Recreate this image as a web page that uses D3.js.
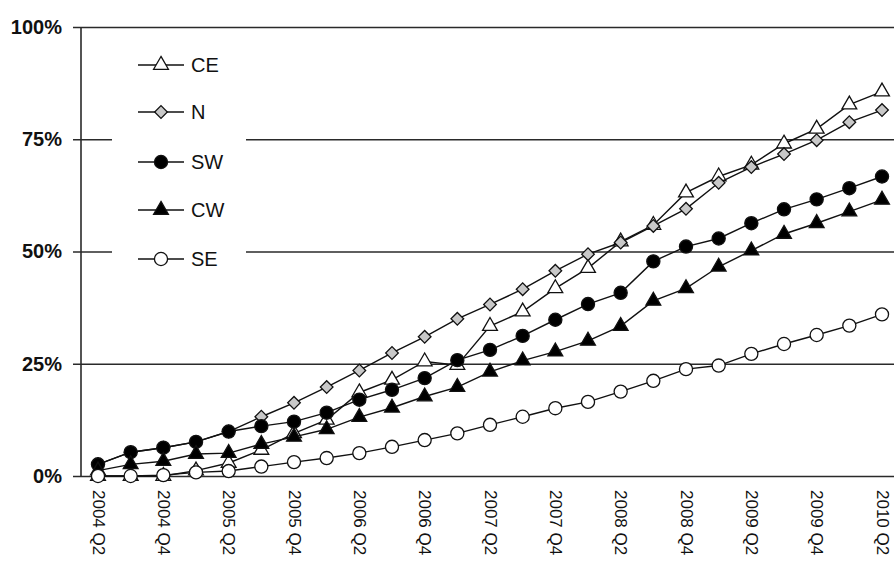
<!DOCTYPE html>
<html>
<head>
<meta charset="utf-8">
<script src="https://cdn.jsdelivr.net/npm/d3@7"></script>
<style>
  html, body { margin: 0; padding: 0; background: #fff; }
  svg { display: block; }
</style>
</head>
<body>
<svg id="chart" width="894" height="562"></svg>
<script>
// ---- Data ----
const quarters = ["2004 Q2","2004 Q3","2004 Q4","2005 Q1","2005 Q2","2005 Q3","2005 Q4","2006 Q1","2006 Q2","2006 Q3","2006 Q4","2007 Q1","2007 Q2","2007 Q3","2007 Q4","2008 Q1","2008 Q2","2008 Q3","2008 Q4","2009 Q1","2009 Q2","2009 Q3","2009 Q4","2010 Q1","2010 Q2"];
const tickLabels = ["2004 Q2","2004 Q4","2005 Q2","2005 Q4","2006 Q2","2006 Q4","2007 Q2","2007 Q4","2008 Q2","2008 Q4","2009 Q2","2009 Q4","2010 Q2"];
const yTicks = [0, 25, 50, 75, 100];

const CE = [0, 0, 0, 1.2, 2.9, 5.8, 9.5, 12.5, 18.6, 21.4, 25.5, 24.7, 33.4, 36.6, 41.8, 46.3, 52.2, 55.9, 63.1, 66.7, 69.3, 74.0, 77.3, 82.7, 85.6];
const N  = [2.6, 5.3, 6.3, 7.6, 9.9, 13.2, 16.3, 19.8, 23.5, 27.4, 31.0, 35.0, 38.2, 41.6, 45.7, 49.4, 52.0, 55.7, 59.5, 65.3, 68.8, 71.7, 74.8, 78.8, 81.5];
const SW = [2.6, 5.3, 6.3, 7.6, 9.9, 11.1, 12.1, 14.1, 17.0, 19.2, 21.8, 25.8, 28.1, 31.2, 34.8, 38.3, 40.8, 47.8, 51.1, 52.9, 56.3, 59.4, 61.6, 64.1, 66.7];
const CW = [1.2, 2.6, 3.3, 4.9, 5.1, 7.1, 8.7, 10.4, 13.1, 15.2, 17.7, 19.8, 23.2, 25.7, 27.7, 30.1, 33.4, 39.0, 41.8, 46.6, 50.2, 53.9, 56.3, 58.9, 61.5];
const SE = [0, 0, 0.2, 0.8, 1.1, 2.1, 3.1, 4.0, 5.1, 6.5, 8.0, 9.5, 11.4, 13.2, 15.1, 16.5, 18.8, 21.2, 23.8, 24.6, 27.2, 29.4, 31.4, 33.5, 36.0];

const seriesNames = ["CE", "N", "SW", "CW", "SE"];
const seriesValues = { CE, N, SW, CW, SE };
const markerStyle = {
  CE: { type: d3.symbolTriangle, fill: "#ffffff", size: 95, rot: 0 },
  N:  { type: d3.symbolSquare,   fill: "#c8c8c8", size: 80, rot: 45 },
  SW: { type: d3.symbolCircle,   fill: "#000000", size: 135, rot: 0 },
  CW: { type: d3.symbolTriangle, fill: "#000000", size: 95, rot: 0 },
  SE: { type: d3.symbolCircle,   fill: "#ffffff", size: 135, rot: 0 }
};

// ---- Layout ----
const svg = d3.select("#chart");
const axisX = 81, plotRight = 894, tickLeft = 73;
const x = d3.scalePoint().domain(quarters).range([98, 882]);
const y = d3.scaleLinear().domain([0, 100]).range([476, 27]);

// gridlines + y labels
const yAxis = d3.axisLeft(y)
  .tickValues(yTicks)
  .tickSizeInner(-(plotRight - tickLeft))
  .tickSizeOuter(0)
  .tickPadding(0)
  .tickFormat(d => d + "%");
const gy = svg.append("g").attr("transform", `translate(${tickLeft},0)`).call(yAxis);
gy.select(".domain").remove();
gy.selectAll(".tick line").attr("stroke", "#2a2a2a").attr("stroke-width", 1.6);
gy.selectAll(".tick text")
  .attr("x", -11)
  .attr("font-family", "'Liberation Sans', Arial, sans-serif")
  .attr("font-weight", "bold")
  .attr("font-size", 20)
  .attr("fill", "#111");

// legend background (interrupts gridlines)
svg.append("rect").attr("x", 112).attr("y", 40).attr("width", 134).attr("height", 245).attr("fill", "#fff");

// y axis vertical line
svg.append("line").attr("x1", axisX).attr("x2", axisX).attr("y1", y(100)).attr("y2", y(0))
  .attr("stroke", "#2a2a2a").attr("stroke-width", 1.6);

// x labels
const xAxis = d3.axisBottom(x).tickValues(tickLabels).tickSize(0).tickPadding(0);
const gx = svg.append("g").attr("transform", `translate(0,${y(0)})`).call(xAxis);
gx.select(".domain").remove();
gx.selectAll(".tick text")
  .attr("transform", "rotate(90)")
  .attr("x", 14).attr("y", 0).attr("dy", "0.35em")
  .attr("text-anchor", "start")
  .attr("font-family", "'Liberation Sans', Arial, sans-serif")
  .attr("font-size", 17)
  .attr("fill", "#111");

// series
const line = d3.line().x((d, i) => x(quarters[i])).y(d => y(d));
seriesNames.forEach(name => {
  const vals = seriesValues[name];
  const st = markerStyle[name];
  const g = svg.append("g");
  g.append("path").datum(vals).attr("d", line)
    .attr("fill", "none").attr("stroke", "#111").attr("stroke-width", 1.4);
  g.selectAll("path.m").data(vals).join("path").attr("class", "m")
    .attr("transform", (d, i) => `translate(${x(quarters[i])},${y(d)}) rotate(${st.rot})`)
    .attr("d", d3.symbol().type(st.type).size(st.size))
    .attr("fill", st.fill).attr("stroke", "#111").attr("stroke-width", 1.3);
});

// legend
const legendY = [65, 112, 162, 210, 259];
seriesNames.forEach((name, k) => {
  const st = markerStyle[name];
  const ly = legendY[k];
  svg.append("line").attr("x1", 138).attr("x2", 184).attr("y1", ly).attr("y2", ly)
    .attr("stroke", "#111").attr("stroke-width", 1.4);
  svg.append("path").attr("transform", `translate(161,${ly}) rotate(${st.rot})`)
    .attr("d", d3.symbol().type(st.type).size(st.size))
    .attr("fill", st.fill).attr("stroke", "#111").attr("stroke-width", 1.3);
  svg.append("text").attr("x", 191).attr("y", ly).attr("dy", "0.36em")
    .attr("font-family", "'Liberation Sans', Arial, sans-serif")
    .attr("font-size", 20).attr("fill", "#111").text(name);
});
</script>
</body>
</html>
